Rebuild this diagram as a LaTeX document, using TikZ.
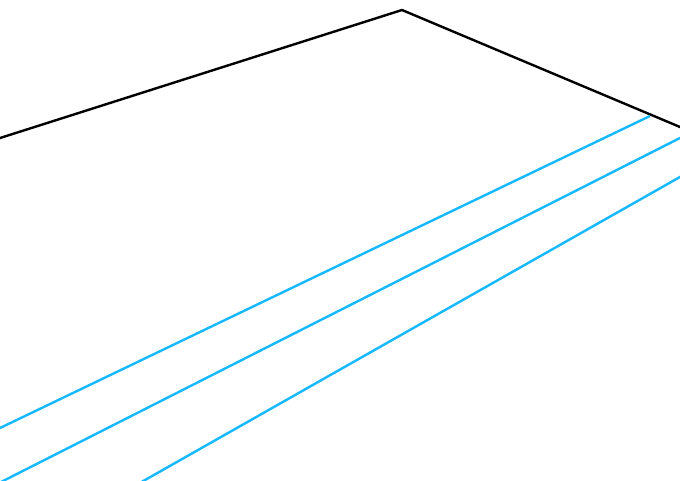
\documentclass[tikz,border=0pt]{standalone}
\definecolor{lineblue}{RGB}{22,184,255}
\begin{document}
\begin{tikzpicture}[x=1pt,y=-1pt,
  edge/.style={line width=2.4pt,black,line join=miter},
  stripe/.style={line width=2.4pt,lineblue}]
\useasboundingbox (0,0) rectangle (680,480);
\clip (0,0) rectangle (680,480);
\fill[white] (0,0) rectangle (680,480);
\coordinate (L) at (-10,141.2);
\coordinate (T) at (402,10);
\coordinate (R) at (690,131.2);
\draw[edge] (L) -- (T) -- (R);
\coordinate (a1) at (-10,432.8);
\coordinate (a2) at (650,116);
\coordinate (b1) at (-10,487.6);
\coordinate (b2) at (690,132.9);
\coordinate (c1) at (135,485.7);
\coordinate (c2) at (690,171.3);
\draw[stripe] (a1) -- (a2);
\draw[stripe] (b1) -- (b2);
\draw[stripe] (c1) -- (c2);
\end{tikzpicture}
\end{document}
